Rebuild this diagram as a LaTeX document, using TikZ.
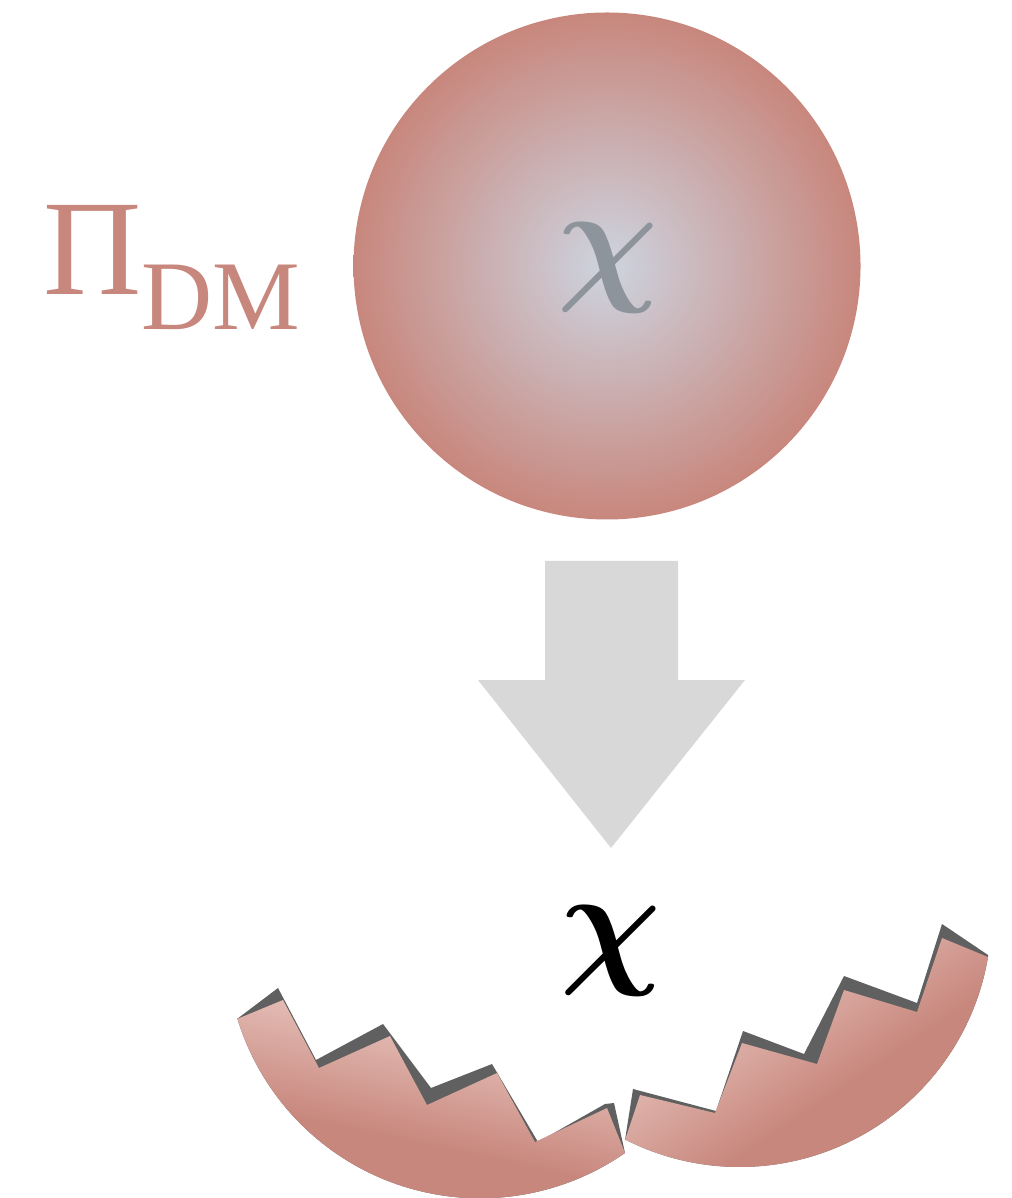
\RequirePackage{fix-cm}
\documentclass[tikz,border=0pt]{standalone}
\usepackage{fontspec}
\setmainfont{Liberation Serif}
\definecolor{shellpink}{RGB}{200,135,125}
\definecolor{shelllight}{RGB}{230,194,187}
\definecolor{corecol}{RGB}{205,212,224}
\definecolor{chigrey}{RGB}{142,148,156}
\definecolor{crackgrey}{RGB}{96,96,96}
\definecolor{arrowgrey}{RGB}{216,216,216}
% light core fading to the pink rim
\pgfdeclareradialshading{halo}{\pgfpoint{0bp}{0bp}}{color(0bp)=(corecol); color(25bp)=(shellpink); color(50bp)=(shellpink)}
% shell wall: pale near the broken rim, deeper toward the outside
\pgfdeclareverticalshading{shellwall}{100bp}{color(0bp)=(shellpink); color(25bp)=(shellpink); color(42bp)=(shellpink); color(68bp)=(shelllight); color(100bp)=(shelllight)}
\tikzset{
  label/.style={inner sep=0pt, outer sep=0pt},
  crack/.style={fill=crackgrey},
  bigarrow/.style={fill=arrowgrey},
  chisym/.style={label, font=\fontsize{40}{42}\selectfont\boldmath},
}
\begin{document}
\begin{tikzpicture}[x=0.01cm,y=0.01cm]
\useasboundingbox (0,0) rectangle (1011,-1198);

% intact particle
\coordinate (core) at (607,-266);
\shade[shading=halo] (core) circle[radius=253.5];
\node[chisym, text=chigrey] (chiin) at (608,-268) {$\chi$};

% label
\node[label, anchor=base west, text=shellpink, font=\fontsize{38.7}{42}\selectfont] (pilab) at (44,-295) {Π};
\node[label, anchor=base west, text=shellpink, font=\fontsize{28}{30}\selectfont] (dmlab) at (141,-330) {DM};

% block arrow
\coordinate (atip) at (611,-848);
\fill[bigarrow] (545,-561) -- (678,-561) -- (678,-680) -- (745,-680) -- (atip) -- (478,-680) -- (545,-680) -- cycle;

% released particle
\node[chisym] (chiout) at (611,-951) {$\chi$};

% left shell fragment: crack edge, then shell
\fill[crack] (237,-1019) -- (278,-988) -- (316,-1060) -- (383,-1024) -- (431,-1088) -- (492,-1064) -- (538,-1142) -- (605,-1104) -- (614,-1103) -- (625,-1153)
  arc[start angle=-55.25, end angle=-162.85, radius=254] -- cycle;
\shade[shading=shellwall, shading angle=-12]
  (237,-1019) -- (283,-1000) -- (319,-1068) -- (390,-1036) -- (427,-1105) -- (497,-1073) -- (535,-1142) -- (607,-1108) -- (625,-1153)
  arc[start angle=-55.25, end angle=-162.85, radius=254] -- cycle;

% right shell fragment: crack edge, then shell
\fill[crack] (625,-1140) -- (633,-1089) -- (716,-1111) -- (743,-1031) -- (804,-1054) -- (844,-976) -- (917,-1003) -- (942,-924) -- (988,-955) -- (988,-957)
  arc[start angle=-9.6, end angle=-117.07, radius=252] -- cycle;
\shade[shading=shellwall, shading angle=34]
  (625,-1140) -- (640,-1095) -- (715,-1113) -- (742,-1043) -- (817,-1064) -- (844,-990) -- (917,-1012) -- (942,-938) -- (988,-957)
  arc[start angle=-9.6, end angle=-117.07, radius=252] -- cycle;
\end{tikzpicture}
\end{document}
